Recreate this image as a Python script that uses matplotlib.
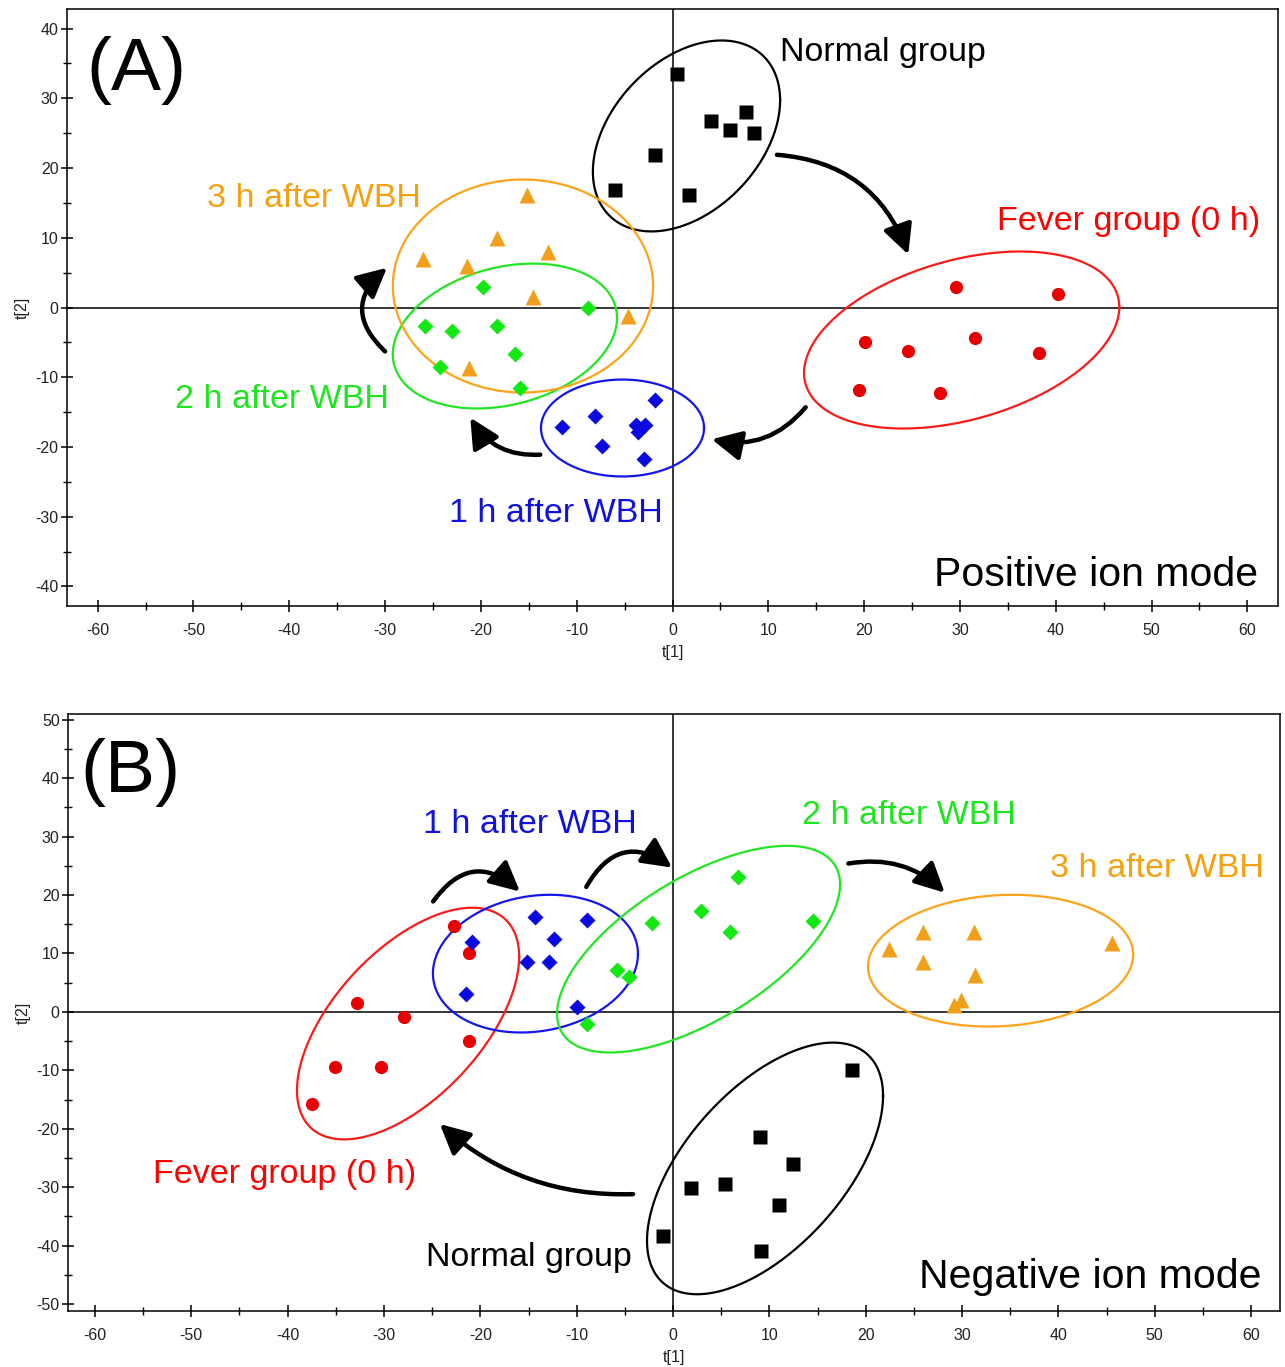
import matplotlib
matplotlib.use('Agg')
import matplotlib.pyplot as plt
import numpy as np
from matplotlib.patches import FancyArrowPatch
from matplotlib.ticker import MultipleLocator

plt.rcParams['font.family'] = ['Liberation Sans', 'DejaVu Sans']
plt.rcParams['axes.unicode_minus'] = False

# ---- Panel A (positive ion mode) ----
a_normal_x = [0.5, 4.0, 6.0, 7.7, 8.5, -1.8, -6.0, 1.7]
a_normal_y = [33.5, 26.7, 25.5, 28.0, 25.0, 21.9, 16.9, 16.2]
a_fever_x = [29.6, 40.2, 20.1, 24.6, 31.6, 38.3, 19.5, 27.9]
a_fever_y = [3.0, 1.9, -5.0, -6.3, -4.4, -6.5, -11.8, -12.3]
a_1h_x = [-1.8, -8.1, -11.5, -3.8, -2.9, -3.6, -7.4, -3.0]
a_1h_y = [-13.2, -15.6, -17.2, -16.8, -16.8, -17.9, -19.9, -21.7]
a_2h_x = [-19.8, -8.8, -25.8, -23.0, -18.3, -16.4, -24.3, -15.9]
a_2h_y = [3.0, -0.1, -2.6, -3.3, -2.7, -6.6, -8.5, -11.5]
a_3h_x = [-15.2, -18.3, -13.0, -26.0, -21.5, -14.6, -4.65, -21.25]
a_3h_y = [16.1, 9.9, 8.0, 7.0, 5.9, 1.5, -1.2, -8.7]

# ---- Panel B (negative ion mode) ----
b_normal_x = [18.6, 9.0, 12.5, 1.9, 5.4, 11.0, -1.0, 9.1]
b_normal_y = [-10.0, -21.5, -26.1, -30.2, -29.4, -33.0, -38.4, -41.0]
b_fever_x = [-22.7, -21.2, -32.8, -27.9, -21.2, -35.1, -30.3, -37.5]
b_fever_y = [14.75, 10.0, 1.6, -0.8, -5.0, -9.5, -9.5, -15.8]
b_1h_x = [-14.3, -8.9, -20.9, -12.4, -15.2, -12.9, -21.5, -10.0]
b_1h_y = [16.3, 15.8, 11.9, 12.4, 8.6, 8.6, 3.0, 0.9]
b_2h_x = [6.75, 2.9, 5.9, -2.2, 14.5, -5.8, -4.6, -8.9]
b_2h_y = [23.1, 17.3, 13.7, 15.2, 15.6, 7.1, 5.9, -2.0]
b_3h_x = [22.4, 25.9, 25.9, 31.2, 31.3, 45.6, 29.9, 29.2]
b_3h_y = [10.8, 13.6, 8.5, 13.6, 6.3, 11.8, 2.1, 1.1]

# ellipses: centre x, centre y, half width, half height, x offset of top point
a_ell = {
    'normal': (1.46, 24.6, 9.77, 13.69, 3.66),
    'fever': (30.18, -4.66, 16.45, 12.69, 6.11),
    '1h': (-5.22, -17.28, 8.51, 6.95, 0.0),
    '2h': (-17.49, -4.09, 11.70, 10.39, 2.92),
    '3h': (-15.61, 3.08, 13.58, 15.27, 0.0),
}
b_ell = {
    'normal': (9.55, -26.8, 12.25, 21.54, 7.06),
    'fever': (-27.5, -2.0, 11.53, 19.83, 6.65),
    '1h': (-14.28, 8.26, 10.64, 11.79, 1.5),
    '2h': (2.65, 10.74, 14.69, 17.69, 9.19),
    '3h': (34.0, 8.77, 13.76, 11.28, 1.25),
}

# arrows: start, end, curvature
a_arrows = [((10.9, 21.9), (24.6, 7.6), -0.32),
            ((13.9, -14.3), (4.1, -18.9), -0.3),
            ((-13.8, -21.1), (-21.1, -15.8), -0.3),
            ((-30.0, -6.3), (-29.8, 5.7), -0.55)]
b_arrows = [((-24.9, 18.9), (-15.9, 20.6), -0.55),
            ((-9.0, 21.4), (-0.1, 24.7), -0.55),
            ((18.2, 25.4), (28.2, 20.4), -0.25),
            ((-4.15, -31.2), (-24.2, -19.2), -0.2)]

# labels: text, x, y, colour, ha
a_texts = [('Normal group', 11.2, 36.5, 'black', 'left'),
           ('Fever group (0 h)', 33.9, 12.4, '#ff0000', 'left'),
           ('3 h after WBH', -48.6, 15.7, '#f5a00f', 'left'),
           ('2 h after WBH', -51.9, -13.2, '#1ee61e', 'left'),
           ('1 h after WBH', -23.3, -29.6, '#1010e0', 'left')]
b_texts = [('1 h after WBH', -25.9, 32.0, '#1010e0', 'left'),
           ('2 h after WBH', 13.4, 33.7, '#1ee61e', 'left'),
           ('3 h after WBH', 39.1, 24.5, '#f5a00f', 'left'),
           ('Fever group (0 h)', -54.0, -27.8, '#ff0000', 'left'),
           ('Normal group', -25.6, -42.0, 'black', 'left')]

style = {
    'normal': dict(marker='s', color='black', ms=9.5, ell='black'),
    'fever': dict(marker='o', color='#e80000', ms=9.5, ell='#ff1a1a'),
    '1h': dict(marker='D', color='#0a0ae0', ms=8.5, ell='#1515f0'),
    '2h': dict(marker='D', color='#12e812', ms=8.5, ell='#22e622'),
    '3h': dict(marker='^', color='#f2a01b', ms=11, ell='#ffa31a'),
}


def ellipse_pts(cx, cy, hw, hh, tx):
    cov = np.array([[hw**2, tx * hh], [tx * hh, hh**2]])
    L = np.linalg.cholesky(cov)
    t = np.linspace(0, 2 * np.pi, 300)
    p = L @ np.vstack([np.cos(t), np.sin(t)])
    return cx + p[0], cy + p[1]


def draw_panel(ax, groups, ells, arrows, texts, letter, letter_pos, mode, mode_pos, xlim, ylim):
    ax.axhline(0, color='black', lw=1.1, zorder=1)
    ax.axvline(0, color='black', lw=1.1, zorder=1)
    for key, (gx, gy) in groups.items():
        st = style[key]
        ex, ey = ellipse_pts(*ells[key])
        ax.plot(ex, ey, color=st['ell'], lw=1.6, zorder=2)
        ax.plot(gx, gy, linestyle='none', marker=st['marker'], color=st['color'],
                ms=st['ms'], mec='none', zorder=3)
    for (p0, p1, rad) in arrows:
        arr = FancyArrowPatch(p0, p1, connectionstyle='arc3,rad=%.2f' % rad,
                              arrowstyle='-|>,head_length=0.6,head_width=0.3',
                              mutation_scale=30, lw=3.2, color='black',
                              shrinkA=0, shrinkB=0, zorder=4)
        ax.add_patch(arr)
    for (s, x, y, c, ha) in texts:
        ax.text(x, y, s, color=c, fontsize=24.5, ha=ha, va='center')
    ax.text(letter_pos[0], letter_pos[1], letter, fontsize=54, ha='left', va='center')
    ax.text(mode_pos[0], mode_pos[1], mode, fontsize=29.5, ha='right', va='center')

    ax.set_xlim(*xlim)
    ax.set_ylim(*ylim)
    ax.xaxis.set_major_locator(MultipleLocator(10))
    ax.xaxis.set_minor_locator(MultipleLocator(5))
    ax.yaxis.set_major_locator(MultipleLocator(10))
    ax.yaxis.set_minor_locator(MultipleLocator(5))
    ax.tick_params(which='major', direction='inout', length=8, width=1.1,
                   labelsize=11.5, labelcolor='#222222')
    ax.tick_params(which='minor', direction='inout', length=6, width=1.0)
    ax.tick_params(axis='x', pad=8)
    ax.tick_params(axis='y', pad=2)
    for sp in ax.spines.values():
        sp.set_linewidth(1.1)
    ax.set_xlabel('t[1]', fontsize=11.5, labelpad=5, color='#222222')
    ax.set_ylabel('t[2]', fontsize=11.5, labelpad=4, color='#222222')


fig = plt.figure(figsize=(12.85, 13.67), dpi=100)
axA = fig.add_axes([0.0521, 0.5567, 0.9425, 0.4367])
axB = fig.add_axes([0.0529, 0.0410, 0.9432, 0.4367])

draw_panel(axA,
           {'normal': (a_normal_x, a_normal_y), 'fever': (a_fever_x, a_fever_y),
            '1h': (a_1h_x, a_1h_y), '2h': (a_2h_x, a_2h_y), '3h': (a_3h_x, a_3h_y)},
           a_ell, a_arrows, a_texts, '(A)', (-61.2, 34.0),
           'Positive ion mode', (61.1, -38.3), (-63.2, 63.2), (-42.8, 42.8))

draw_panel(axB,
           {'normal': (b_normal_x, b_normal_y), 'fever': (b_fever_x, b_fever_y),
            '1h': (b_1h_x, b_1h_y), '2h': (b_2h_x, b_2h_y), '3h': (b_3h_x, b_3h_y)},
           b_ell, b_arrows, b_texts, '(B)', (-61.5, 41.0),
           'Negative ion mode', (61.1, -45.4), (-62.8, 63.0), (-51.2, 51.0))

fig.savefig('out.png', dpi=100)
